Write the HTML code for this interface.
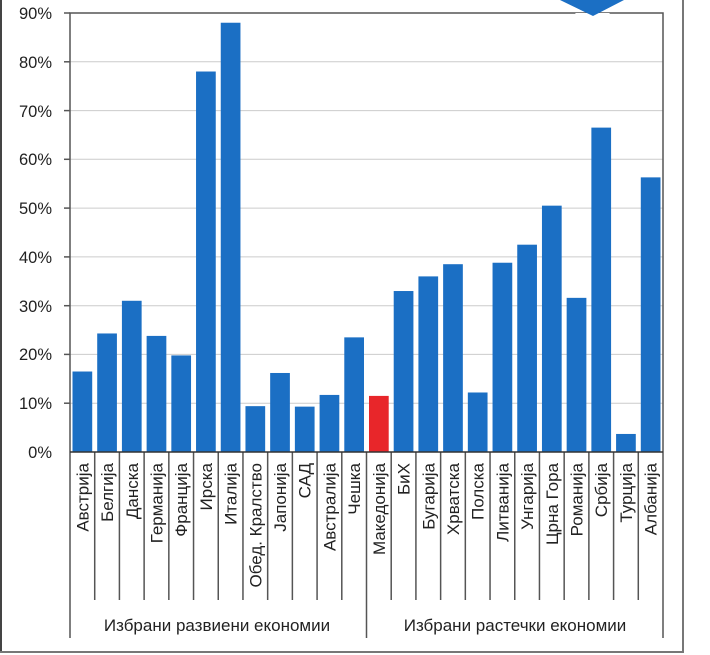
<!DOCTYPE html>
<html><head><meta charset="utf-8"><style>
body{margin:0;background:#fff}
svg{display:block}
text{font-family:"Liberation Sans","DejaVu Sans",sans-serif;fill:#222}
</style></head><body>
<svg width="710" height="655" viewBox="0 0 710 655" xmlns="http://www.w3.org/2000/svg">
<line x1="1" y1="0" x2="1" y2="652" stroke="#444" stroke-width="2"/>
<line x1="683" y1="0" x2="683" y2="652" stroke="#777" stroke-width="2"/>
<line x1="0" y1="652" x2="684" y2="652" stroke="#777" stroke-width="2"/>
<g stroke="#ccc" stroke-width="1">
<line x1="70" x2="663" y1="61.8" y2="61.8"/><line x1="70" x2="663" y1="110.6" y2="110.6"/>
<line x1="70" x2="663" y1="159.3" y2="159.3"/><line x1="70" x2="663" y1="208.1" y2="208.1"/>
<line x1="70" x2="663" y1="256.9" y2="256.9"/><line x1="70" x2="663" y1="305.7" y2="305.7"/>
<line x1="70" x2="663" y1="354.4" y2="354.4"/><line x1="70" x2="663" y1="403.2" y2="403.2"/>
</g>
<g id="bars"></g>
<g stroke="#555" stroke-width="1.5" fill="none">
<polyline points="70,452 70,13 663,13 663,452"/>
<line x1="64" x2="70" y1="13" y2="13"/><line x1="64" x2="70" y1="61.8" y2="61.8"/>
<line x1="64" x2="70" y1="110.6" y2="110.6"/><line x1="64" x2="70" y1="159.3" y2="159.3"/>
<line x1="64" x2="70" y1="208.1" y2="208.1"/><line x1="64" x2="70" y1="256.9" y2="256.9"/>
<line x1="64" x2="70" y1="305.7" y2="305.7"/><line x1="64" x2="70" y1="354.4" y2="354.4"/>
<line x1="64" x2="70" y1="403.2" y2="403.2"/>
</g>
<polygon points="575,13 610,13 592,30" fill="#fff"/>
<polygon points="560,0 624,0 593,16" fill="#1b6fc4"/>
<g font-size="16.5" text-anchor="end">
<text x="52" y="19">90%</text><text x="52" y="68">80%</text><text x="52" y="117">70%</text>
<text x="52" y="165">60%</text><text x="52" y="214">50%</text><text x="52" y="263">40%</text>
<text x="52" y="312">30%</text><text x="52" y="360">20%</text><text x="52" y="409">10%</text>
<text x="52" y="458">0%</text>
</g>
<g id="cats"></g>
<text x="217" y="631" font-size="17" text-anchor="middle">Избрани развиени економии</text>
<text x="515" y="631" font-size="17" text-anchor="middle">Избрани растечки економии</text>
<script>
var names=["Австрија","Белгија","Данска","Германија","Франција","Ирска","Италија","Обед. Кралство","Јапонија","САД","Австралија","Чешка","Македонија","БиХ","Бугарија","Хрватска","Полска","Литванија","Унгарија","Црна Гора","Романија","Србија","Турција","Албанија"];
var vals=[16.5,24.3,31,23.8,19.8,78,88,9.4,16.2,9.3,11.7,23.5,11.5,33,36,38.5,12.2,38.8,42.5,50.5,31.6,66.5,3.7,56.3];
var ns="http://www.w3.org/2000/svg",b=document.getElementById("bars"),c=document.getElementById("cats");
var x0=70,w=(663-70)/24,y0=452,s=4.878;
for(var i=0;i<24;i++){
 var r=document.createElementNS(ns,"rect"),h=vals[i]*s;
 r.setAttribute("x",x0+i*w+2.5);r.setAttribute("width",w-5);r.setAttribute("y",y0-h);r.setAttribute("height",h);
 r.setAttribute("fill",i==12?"#e8262a":"#1b6fc4");b.appendChild(r);
 var t=document.createElementNS(ns,"text"),cx=x0+i*w+w/2+6;
 t.setAttribute("transform","translate("+cx+",463) rotate(-90)");t.setAttribute("text-anchor","end");t.setAttribute("font-size","17");
 t.textContent=names[i];c.appendChild(t);
 var l=document.createElementNS(ns,"line"),lx=x0+i*w,g=(i==0||i==12);
 l.setAttribute("x1",lx);l.setAttribute("x2",lx);l.setAttribute("y1",452);l.setAttribute("y2",g?638:600);
 l.setAttribute("stroke","#555");l.setAttribute("stroke-width","1.5");c.appendChild(l);
}
var l=document.createElementNS(ns,"line");l.setAttribute("x1",663);l.setAttribute("x2",663);l.setAttribute("y1",452);l.setAttribute("y2",638);l.setAttribute("stroke","#555");l.setAttribute("stroke-width","1.5");c.appendChild(l);
var l2=document.createElementNS(ns,"line");l2.setAttribute("x1",70);l2.setAttribute("x2",663);l2.setAttribute("y1",452);l2.setAttribute("y2",452);l2.setAttribute("stroke","#333");l2.setAttribute("stroke-width","1.5");c.appendChild(l2);
</script>
</svg>
</body></html>
